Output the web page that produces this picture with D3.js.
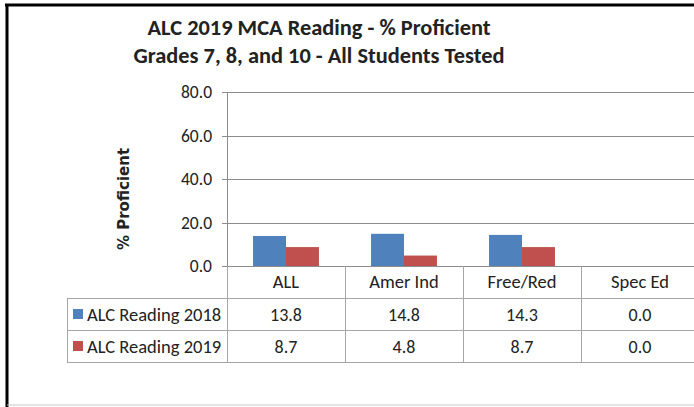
<!DOCTYPE html>
<html>
<head>
<meta charset="utf-8">
<script src="https://cdn.jsdelivr.net/npm/d3@7"></script>
<style>
	body { margin: 0; background: #fff; }
	text { font-family: Calibri, Carlito, Lato, "Open Sans", sans-serif; fill: #222; }
</style>
</head>
<body>
<div id="figure"></div>
<script>
var categories = ["ALL", "Amer Ind", "Free/Red", "Spec Ed"];
var seriesNames = ["ALC Reading 2018", "ALC Reading 2019"];
var reading2018 = [13.8, 14.8, 14.3, 0.0];
var reading2019 = [8.7, 4.8, 8.7, 0.0];
var yTicks = [0, 20, 40, 60, 80];
var colors = ["#4f81bd", "#c0504d"];

var w = 694;
var h = 407;
var plotLeft = 227;
var colWidth = 118;
var plotTop = 92;
var plotBottom = 266;
var rowH = 32;
var legendLeft = 67;

var svg = d3.select('#figure')
	.append('svg')
	.attr('width', w)
	.attr('height', h);

// frame
svg.append('line').attr('x1', 5).attr('x2', w).attr('y1', 5).attr('y2', 5)
	.attr('stroke', '#000').attr('stroke-width', 3);
svg.append('line').attr('x1', 7).attr('x2', 7).attr('y1', 4).attr('y2', h)
	.attr('stroke', '#000').attr('stroke-width', 3);
svg.append('line').attr('x1', 7).attr('x2', w).attr('y1', 405).attr('y2', 405)
	.attr('stroke', '#c8c8c8').attr('stroke-width', 1);

// titles
svg.append('text')
	.attr('x', 319).attr('y', 35)
	.attr('text-anchor', 'middle')
	.attr('font-size', 22.4).attr('font-weight', 'bold')
	.text('ALC 2019 MCA Reading - % Proficient');
svg.append('text')
	.attr('x', 319).attr('y', 63)
	.attr('text-anchor', 'middle')
	.attr('font-size', 22.4).attr('font-weight', 'bold')
	.text('Grades 7, 8, and 10 - All Students Tested');

var xScale = d3.scaleBand()
	.domain(categories)
	.range([plotLeft, plotLeft + colWidth * categories.length])
	.padding(0);

var xInner = d3.scaleBand()
	.domain(seriesNames)
	.range([0, colWidth])
	.paddingInner(0)
	.paddingOuter(0.79);

var yScale = d3.scaleLinear()
	.domain([0, 80])
	.range([plotBottom, plotTop]);

// gridlines
svg.append('g')
	.classed('gridlines', true)
	.selectAll('line')
	.data(yTicks)
	.enter()
	.append('line')
	.attr('x1', plotLeft - 5)
	.attr('x2', w)
	.attr('y1', function(d){ return Math.round(yScale(d)) + 0.5; })
	.attr('y2', function(d){ return Math.round(yScale(d)) + 0.5; })
	.attr('stroke', '#8c8c8c')
	.attr('stroke-width', 1);

svg.append('line')
	.attr('x1', plotLeft + 0.5).attr('x2', plotLeft + 0.5)
	.attr('y1', plotTop).attr('y2', plotBottom)
	.attr('stroke', '#8c8c8c');

// y tick labels
svg.append('g')
	.selectAll('text')
	.data(yTicks)
	.enter()
	.append('text')
	.attr('x', 212)
	.attr('y', function(d){ return yScale(d) + 6; })
	.attr('text-anchor', 'end')
	.attr('font-size', 17.5)
	.text(function(d){ return d.toFixed(1); });

// y title
svg.append('text')
	.attr('transform', 'translate(129,199) rotate(-90)')
	.attr('text-anchor', 'middle')
	.attr('font-size', 15)
	.attr('font-weight', 'bold')
	.style('font-family', '"DejaVu Sans", Verdana, sans-serif')
	.text('% Proficient');

// bars
var seriesData = [reading2018, reading2019];
seriesData.forEach(function(values, s){
	svg.append('g')
		.selectAll('rect')
		.data(values)
		.enter()
		.append('rect')
		.attr('x', function(d, i){ return xScale(categories[i]) + xInner(seriesNames[s]); })
		.attr('y', function(d){ return yScale(d); })
		.attr('width', xInner.bandwidth())
		.attr('height', function(d){ return plotBottom - yScale(d); })
		.attr('fill', colors[s]);
});

// data table
var table = svg.append('g').classed('table', true);
var tableRight = w + 5;
var lineColor = '#a6a6a6';

// horizontal rules
[plotBottom + rowH, plotBottom + rowH * 2, plotBottom + rowH * 3].forEach(function(y){
	table.append('line')
		.attr('x1', legendLeft).attr('x2', tableRight)
		.attr('y1', y + 0.5).attr('y2', y + 0.5)
		.attr('stroke', lineColor);
});
// vertical rules
table.append('line')
	.attr('x1', legendLeft + 0.5).attr('x2', legendLeft + 0.5)
	.attr('y1', plotBottom + rowH).attr('y2', plotBottom + rowH * 3)
	.attr('stroke', lineColor);
table.selectAll('line.col')
	.data(categories)
	.enter()
	.append('line')
	.attr('x1', function(d){ return xScale(d) + 0.5; })
	.attr('x2', function(d){ return xScale(d) + 0.5; })
	.attr('y1', plotBottom)
	.attr('y2', plotBottom + rowH * 3)
	.attr('stroke', lineColor);

// category labels
table.selectAll('text.cat')
	.data(categories)
	.enter()
	.append('text')
	.attr('x', function(d){ return xScale(d) + colWidth / 2; })
	.attr('y', plotBottom + 22)
	.attr('text-anchor', 'middle')
	.attr('font-size', 18.5)
	.text(function(d){ return d; });

// rows
seriesData.forEach(function(values, s){
	var rowTop = plotBottom + rowH * (s + 1);
	table.append('rect')
		.attr('x', legendLeft + 6).attr('y', rowTop + 11)
		.attr('width', 10).attr('height', 10)
		.attr('fill', colors[s]);
	table.append('text')
		.attr('x', legendLeft + 20)
		.attr('y', rowTop + 23)
		.attr('font-size', 18.5)
		.text(seriesNames[s]);
	table.append('g')
		.selectAll('text')
		.data(values)
		.enter()
		.append('text')
		.attr('x', function(d, i){ return xScale(categories[i]) + colWidth / 2; })
		.attr('y', rowTop + 23)
		.attr('text-anchor', 'middle')
		.attr('font-size', 18)
		.text(function(d){ return d.toFixed(1); });
});
</script>
</body>
</html>
